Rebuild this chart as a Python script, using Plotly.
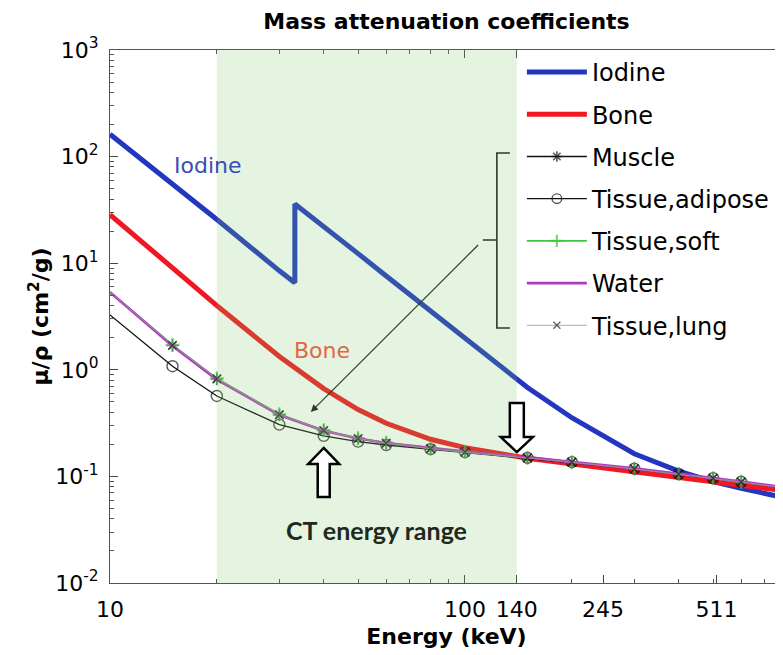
import math
import plotly.graph_objects as go

# ---------------- data ----------------
energy_kev = [10, 15, 20, 30, 40, 50, 60, 80, 100, 150, 200, 300, 400, 500, 600, 800]

iodine_energy = [10, 15, 20, 30, 33.17, 33.17, 40, 50, 60, 80, 100, 150, 200, 300, 400, 500, 600, 800]
iodine = [162, 55.8, 25.7, 8.48, 6.55, 35.9, 22.3, 12.3, 7.58, 3.53, 1.94, 0.683, 0.355, 0.163, 0.112,
          0.0895, 0.0772, 0.0628]
bone = [28.5, 9.03, 4.00, 1.331, 0.666, 0.424, 0.315, 0.223, 0.186, 0.148, 0.131, 0.111, 0.0991,
        0.0902, 0.0833, 0.0731]
muscle = [5.36, 1.69, 0.821, 0.378, 0.269, 0.226, 0.205, 0.182, 0.169, 0.149, 0.136, 0.118, 0.105,
          0.0960, 0.0887, 0.0779]
adipose = [3.27, 1.08, 0.568, 0.306, 0.240, 0.212, 0.197, 0.180, 0.169, 0.149, 0.136, 0.118, 0.1055,
           0.0963, 0.0890, 0.0782]
soft = [5.38, 1.71, 0.831, 0.383, 0.271, 0.228, 0.207, 0.184, 0.170, 0.150, 0.136, 0.118, 0.1056,
        0.0963, 0.0890, 0.0782]
water = [5.33, 1.67, 0.810, 0.376, 0.268, 0.227, 0.206, 0.184, 0.171, 0.151, 0.137, 0.119, 0.106,
         0.0969, 0.0896, 0.0787]
lung = [5.36, 1.70, 0.825, 0.380, 0.270, 0.227, 0.205, 0.182, 0.169, 0.149, 0.136, 0.1175, 0.105,
        0.0959, 0.0887, 0.0779]

x_tick_vals = [10, 100, 140, 245, 511]
x_tick_text = ["10", "100", "140", "245", "511"]
y_tick_vals = [0.01, 0.1, 1, 10, 100, 1000]
y_tick_text = ["10<sup>-2</sup>", "10<sup>-1</sup>", "10<sup>0</sup>", "10<sup>1</sup>",
               "10<sup>2</sup>", "10<sup>3</sup>"]
ct_range = [20, 140]

# ---------------- geometry helpers ----------------
# the page body has an 8px margin, so the figure is 8px smaller than the window
W, H = 775, 647
ML, MR, MT, MB = 102, 0, 42, 72
PW, PH = W - ML - MR, H - MT - MB
XR = [1.0, 2.896]
YR = [-2.0, 3.0]


def fx(e):
    return (math.log10(e) - XR[0]) / (XR[1] - XR[0])


def fy(v):
    return (math.log10(v) - YR[0]) / (YR[1] - YR[0])


def px(dx):
    return dx / PW


def py(dy):
    return dy / PH


FONT = "DejaVu Sans"

# markers only at interior sample energies
msize = lambda s: [0] + [s] * (len(energy_kev) - 2) + [0]

fig = go.Figure()

fig.add_trace(go.Scatter(x=iodine_energy, y=iodine, mode="lines", name="Iodine",
                         line=dict(color="#2236c0", width=5), legendgroup="a"))
fig.add_trace(go.Scatter(x=energy_kev, y=bone, mode="lines", name="Bone",
                         line=dict(color="#f01822", width=5), legendgroup="b"))
fig.add_trace(go.Scatter(x=energy_kev, y=muscle, mode="lines+markers", name="Muscle",
                         line=dict(color="#111111", width=1.3),
                         marker=dict(symbol="asterisk-open", size=msize(10), color="#111111",
                                     line=dict(width=1.6, color="#111111")), legendgroup="c"))
fig.add_trace(go.Scatter(x=energy_kev, y=adipose, mode="lines+markers", name="Tissue,adipose",
                         line=dict(color="#111111", width=1.3),
                         marker=dict(symbol="circle-open", size=msize(11), color="#111111",
                                     line=dict(width=1.4, color="#111111")), legendgroup="d"))
fig.add_trace(go.Scatter(x=energy_kev, y=soft, mode="lines+markers", name="Tissue,soft",
                         line=dict(color="#3cc83c", width=1.6),
                         marker=dict(symbol="cross-thin-open", size=msize(10), color="#3cc83c",
                                     line=dict(width=2.2, color="#3cc83c")), legendgroup="e"))
fig.add_trace(go.Scatter(x=energy_kev, y=water, mode="lines", name="Water",
                         line=dict(color="#b23cc0", width=2.6), legendgroup="f"))
fig.add_trace(go.Scatter(x=energy_kev, y=lung, mode="lines+markers", name="Tissue,lung",
                         line=dict(color="#9a9a9a", width=0.8),
                         marker=dict(symbol="x-thin-open", size=msize(8), color="#222222",
                                     line=dict(width=1.4, color="#222222")), legendgroup="g"))

shapes = []
# CT energy range (translucent green over the curves)
shapes.append(dict(type="rect", xref="paper", yref="paper", x0=fx(ct_range[0]), x1=fx(ct_range[1]),
                   y0=0, y1=1, fillcolor="rgb(125,200,100)", opacity=0.2, line=dict(width=0),
                   layer="above"))


def block_arrow(e, v, length, head_h, head_w, shaft_w, up=True):
    s = 1 if up else -1
    cx, cy = fx(e), fy(v)
    pts = [(0, 0), (head_w, -s * head_h), (shaft_w, -s * head_h), (shaft_w, -s * length),
           (-shaft_w, -s * length), (-shaft_w, -s * head_h), (-head_w, -s * head_h)]
    path = "M " + " L ".join(f"{cx + px(a):.5f},{cy + py(b):.5f}" for a, b in pts) + " Z"
    return dict(type="path", xref="paper", yref="paper", path=path, fillcolor="white",
                line=dict(color="black", width=2.5), layer="above")


shapes.append(block_arrow(40, 0.185, 49, 16, 15.5, 6, up=True))
shapes.append(block_arrow(140, 0.169, 49, 15, 16, 7, up=False))

# brace
be, btop, bbot, bmid = 123, 108, 2.47, 16.5
bx = fx(be)
brace = (f"M {bx + px(13):.5f},{fy(btop):.5f} L {bx:.5f},{fy(btop):.5f} L {bx:.5f},{fy(bbot):.5f} "
         f"L {bx + px(13):.5f},{fy(bbot):.5f} M {bx:.5f},{fy(bmid):.5f} L {bx - px(14):.5f},{fy(bmid):.5f}")
shapes.append(dict(type="path", xref="paper", yref="paper", path=brace,
                   line=dict(color="#2c3a2c", width=1.6), layer="above"))

annotations = [
    dict(x=math.log10(36.8), y=math.log10(0.402), ax=math.log10(112.5), ay=math.log10(16.5),
         xref="x", yref="y", axref="x", ayref="y", text=" ", showarrow=True,
         arrowhead=2, arrowsize=1.2, arrowwidth=1.2, arrowcolor="#2c3a2c"),
    dict(x=math.log10(18.9), y=math.log10(83), xref="x", yref="y", text="Iodine", showarrow=False,
         font=dict(family=FONT, size=22, color="#3a4db5")),
    dict(x=math.log10(39.5), y=math.log10(1.53), xref="x", yref="y", text="Bone", showarrow=False,
         font=dict(family=FONT, size=22, color="#e0673f")),
    dict(x=math.log10(56.5), y=math.log10(0.0314), xref="x", yref="y", text="<b>CT energy range</b>",
         showarrow=False, font=dict(family="Lato", size=25, color="#1e2a1e")),
]

x_minor = [k * 10 for k in range(2, 10)] + [k * 100 for k in range(2, 8)]
y_minor = [k * 10 ** d for d in range(-2, 3) for k in range(2, 10)]

fig.update_layout(
    width=W, height=H, autosize=False,
    margin=dict(l=ML, r=MR, t=MT, b=MB),
    paper_bgcolor="white", plot_bgcolor="white",
    font=dict(family=FONT, size=22, color="black"),
    title=dict(text="<b>Mass attenuation coefficients</b>", x=0.5, xref="paper", xanchor="center",
               y=1 - 13 / H, yref="container", yanchor="middle",
               font=dict(family=FONT, size=22, color="black")),
    xaxis=dict(type="log", range=XR, tickmode="array", tickvals=x_tick_vals, ticktext=x_tick_text,
               ticks="inside", ticklen=8, tickwidth=1, tickcolor="#444", showline=True,
               linecolor="#555", linewidth=1.2, mirror="allticks", showgrid=False, zeroline=False,
               ticklabelstandoff=6, automargin=False,
               minor=dict(tickmode="array", tickvals=x_minor, ticks="inside", ticklen=4,
                          tickcolor="#555", showgrid=False),
               title=dict(text="<b>Energy (keV)</b>", standoff=8,
                          font=dict(family=FONT, size=22))),
    yaxis=dict(type="log", range=YR, tickmode="array", tickvals=y_tick_vals, ticktext=y_tick_text,
               ticks="inside", ticklen=8, tickwidth=1, tickcolor="#444", showline=True,
               linecolor="#555", linewidth=1.2, mirror="allticks", showgrid=False, zeroline=False,
               ticklabelstandoff=6, automargin=False,
               minor=dict(tickmode="array", tickvals=y_minor, ticks="inside", ticklen=4,
                          tickcolor="#555", showgrid=False),
               title=dict(text="<b>μ/ρ (cm<sup>2</sup>/g)</b>", standoff=0,
                          font=dict(family=FONT, size=22))),
    legend=dict(x=0.612, xref="paper", xanchor="left", y=1.0, yanchor="top",
                bgcolor="white", borderwidth=0, font=dict(family=FONT, size=24),
                itemwidth=60, traceorder="grouped", tracegroupgap=8),
    shapes=shapes,
    annotations=annotations,
)

fig.write_html("out.html")
